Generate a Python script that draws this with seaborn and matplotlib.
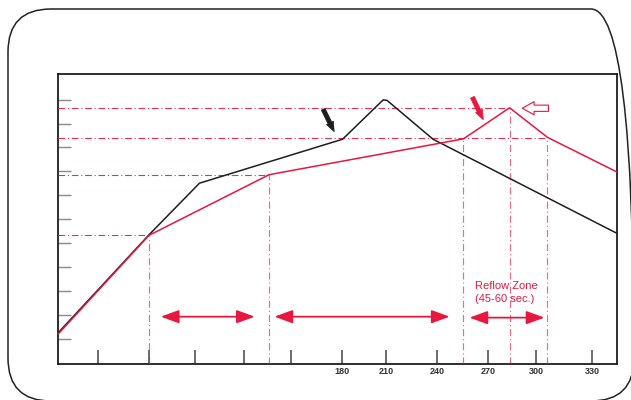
import numpy as np
import pandas as pd
import matplotlib
matplotlib.use("Agg")
import matplotlib.pyplot as plt
from matplotlib.patches import FancyBboxPatch
import seaborn as sns

# Profile data (time in sec, temperature in deg C)
black_t = [8, 63, 93.7, 180.6, 205.2, 207.6, 235.5, 347]
black_y = [31.3, 133.5, 187.6, 233.6, 274.7, 274.2, 233.6, 135.3]

red_t = [8, 63, 136, 254, 282, 305, 347]
red_y = [30, 133, 196.5, 234, 266.5, 235.5, 199.5]

# reference guide lines
h_levels = [133, 196.5, 235, 266]
h_ends = [63, 136, 305, 282]
v_times = [63, 136, 254, 282, 305]
v_tops = [133, 196.5, 234, 266.5, 235.5]

# zone arrows (start, end, level)
zone_start = [70.2, 139.2, 257.6]
zone_end = [127.3, 245.6, 303.2]
zone_level = [48, 48, 47]

xtick_pos = [32, 63, 91, 121, 149, 180, 207, 238, 269, 298, 332]
xtick_labels = ["", "", "", "", "", "180", "210", "240", "270", "300", "330"]
ytick_pos = [25, 50, 75, 100, 125, 150, 175, 200, 225, 250, 275]

RED = "#E8173D"
DARK = "#1e1e1e"

sns.set_theme(style="white")
plt.rcParams["font.family"] = ["Liberation Sans", "DejaVu Sans"]

fig = plt.figure(figsize=(6.31, 4.0), dpi=100)
ax = fig.add_axes([0.0924, 0.09, 0.8849, 0.72425])

df_black = pd.DataFrame({"t": black_t, "temp": black_y})
df_red = pd.DataFrame({"t": red_t, "temp": red_y})
sns.lineplot(data=df_black, x="t", y="temp", sort=False, estimator=None,
             color=DARK, lw=1.1, ax=ax, zorder=4)
sns.lineplot(data=df_red, x="t", y="temp", sort=False, estimator=None,
             color=RED, lw=1.1, ax=ax, zorder=5)

x0, x1 = 8, 347
y0, y1 = -1.5, 301.5

for lev, end in zip(h_levels, h_ends):
    ax.plot([x0, end], [lev, lev], color=RED, lw=0.8, alpha=0.9,
            dashes=(6, 2.5, 1, 2.5), zorder=3)
for tv, top in zip(v_times, v_tops):
    ax.plot([tv, tv], [y0, top], color=RED, lw=0.85, alpha=0.65,
            dashes=(6, 2.5, 1, 2.5), zorder=3)

for s, e, lev in zip(zone_start, zone_end, zone_level):
    ax.annotate("", xy=(e, lev), xytext=(s, lev),
                arrowprops=dict(arrowstyle="<|-|>,head_length=1.1,head_width=0.4",
                                mutation_scale=10, color=RED, lw=1.3,
                                shrinkA=0, shrinkB=0))

ax.text(260.8, 73.3, "Reflow Zone\n(45-60 sec.)", color=RED, fontsize=8,
        ha="left", va="center", linespacing=1.35)

# pointer arrows
ax.annotate("", xy=(175.5, 241.5), xytext=(168.8, 265),
            arrowprops=dict(arrowstyle="simple,head_length=0.7,head_width=0.55,tail_width=0.3",
                            mutation_scale=10, fc=DARK, ec=DARK, lw=0.5,
                            shrinkA=0, shrinkB=0))
ax.annotate("", xy=(266, 254), xytext=(259.4, 277.5),
            arrowprops=dict(arrowstyle="simple,head_length=0.7,head_width=0.55,tail_width=0.3",
                            mutation_scale=10, fc=RED, ec=RED, lw=0.5,
                            shrinkA=0, shrinkB=0))
ax.annotate("", xy=(289.7, 266), xytext=(305.6, 266),
            arrowprops=dict(arrowstyle="simple,head_length=0.85,head_width=0.95,tail_width=0.45",
                            mutation_scale=10, fc="white", ec=RED, lw=0.8,
                            shrinkA=0, shrinkB=0))

ax.set_xlim(x0, x1)
ax.set_ylim(y0, y1)
ax.set_xlabel("")
ax.set_ylabel("")
ax.set_xticks(xtick_pos)
ax.set_xticklabels(xtick_labels, fontsize=6.5, fontweight="bold", color="#333333")
ax.set_yticks(ytick_pos)
ax.set_yticklabels([])
ax.tick_params(axis="x", direction="in", length=10, width=1.1, color="#444444", pad=2,
               bottom=True)
ax.tick_params(axis="y", direction="in", length=9, width=1.0, color="#888888",
               left=True)
for sp in ax.spines.values():
    sp.set_visible(True)
    sp.set_color(DARK)
    sp.set_linewidth(1.3)

frame = FancyBboxPatch((0.08, -0.01), 6.26, 3.92,
                       boxstyle="round,pad=0,rounding_size=0.43",
                       transform=fig.dpi_scale_trans, fill=False,
                       lw=1.1, ec="#222222", clip_on=False)
fig.add_artist(frame)

fig.savefig("out.png", dpi=100)
plt.close(fig)
